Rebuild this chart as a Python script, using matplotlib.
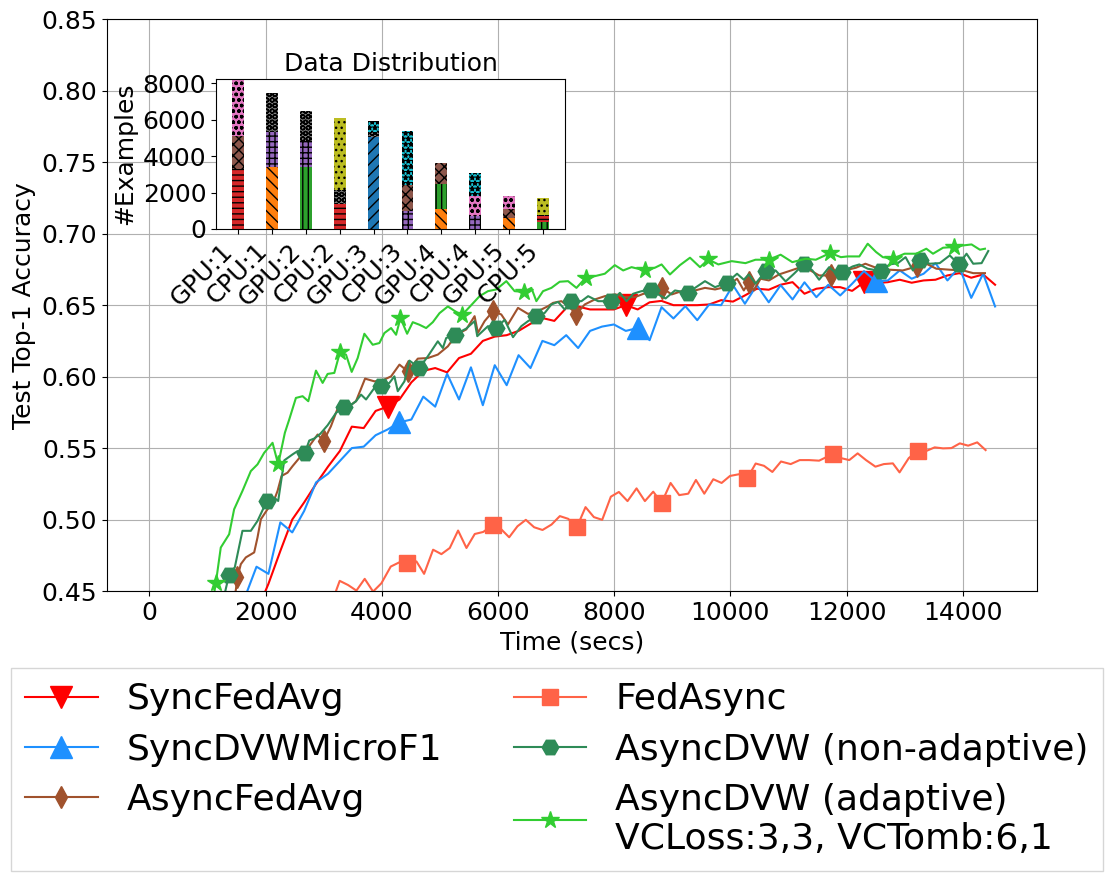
import numpy as np
import matplotlib
matplotlib.use("Agg")
import matplotlib.pyplot as plt

# ---- accuracy curves (time in secs, test top-1 accuracy) ----
red_t = [0, 1640, 1845, 2050, 2255, 2460, 2665, 2870, 3075, 3280, 3485, 3690, 3895, 4100, 4305,
         4510, 4715, 4920, 5125, 5330, 5535, 5740, 5945, 6150, 6355, 6560, 6765, 6970, 7175,
         7380, 7585, 7790, 7995, 8200, 8405, 8610, 8815, 9020, 9225, 9430, 9635, 9840, 10045,
         10250, 10455, 10660, 10865, 11070, 11275, 11480, 11685, 11890, 12095, 12300, 12505,
         12710, 12915, 13120, 13325, 13530, 13735, 13940, 14145, 14350, 14555]
red_acc = [0.10, 0.41, 0.435, 0.455, 0.478, 0.500, 0.512, 0.525, 0.537, 0.548, 0.565, 0.564,
           0.576, 0.579, 0.584, 0.596, 0.604, 0.606, 0.603, 0.613, 0.616, 0.625, 0.628, 0.629,
           0.632, 0.637, 0.641, 0.639, 0.648, 0.649, 0.647, 0.647, 0.647, 0.650, 0.647, 0.652,
           0.653, 0.650, 0.650, 0.650, 0.6505, 0.6535, 0.6525, 0.6568, 0.6615, 0.6608, 0.6643,
           0.6661, 0.658, 0.6615, 0.6626, 0.6626, 0.660, 0.6661, 0.6654, 0.6661, 0.6678, 0.6657,
           0.6673, 0.6678, 0.6708, 0.6724, 0.6692, 0.6715, 0.6643]
red_mark_t = [4100, 8200, 12300]

blue_t = [0, 1435, 1640, 1845, 2050, 2255, 2460, 2665, 2870, 3075, 3280, 3485, 3690, 3895, 4100,
          4305, 4510, 4715, 4920, 5125, 5330, 5535, 5740, 5945, 6150, 6355, 6560, 6765, 6970,
          7175, 7380, 7585, 7790, 7995, 8200, 8405, 8610, 8815, 9020, 9225, 9430, 9635, 9840,
          10045, 10250, 10455, 10660, 10865, 11070, 11275, 11480, 11685, 11890, 12095, 12300,
          12505, 12710, 12915, 13120, 13325, 13530, 13735, 13940, 14145, 14350, 14555]
blue_acc = [0.10, 0.42, 0.445, 0.467, 0.462, 0.498, 0.491, 0.506, 0.526, 0.532, 0.541, 0.550,
            0.551, 0.559, 0.563, 0.568, 0.570, 0.586, 0.579, 0.602, 0.584, 0.6065, 0.580, 0.608,
            0.594, 0.615, 0.606, 0.625, 0.622, 0.629, 0.620, 0.632, 0.635, 0.6365, 0.632, 0.634,
            0.6255, 0.6486, 0.6407, 0.6493, 0.6395, 0.6505, 0.650, 0.664, 0.651, 0.664, 0.652,
            0.664, 0.654, 0.666, 0.6556, 0.6643, 0.6568, 0.665, 0.6738, 0.6666, 0.6673, 0.6743,
            0.6685, 0.672, 0.6794, 0.6673, 0.6766, 0.6551, 0.672, 0.6491]
blue_mark_t = [4305, 8405, 12505]

brown_t = [0, 1380, 1489, 1517, 1575, 1661, 1805, 1862, 1920, 2034, 2121, 2207, 2276, 2379, 2466,
           2609, 2753, 2897, 3000, 3126, 3241, 3414, 3557, 3713, 3874, 4017, 4161, 4305, 4448,
           4621, 4793, 4965, 5138, 5282, 5454, 5598, 5655, 5770, 5914, 6057, 6172, 6345, 6517,
           6690, 6862, 6948, 7092, 7207, 7351, 7494, 7667, 7839, 8011, 8184, 8356, 8500, 8701,
           8828, 8989, 9161, 9391, 9563, 9736, 9908, 10023, 10115, 10231, 10317, 10403, 10519,
           10663, 10836, 11009, 11182, 11355, 11527, 11729, 11844, 12017, 12162, 12323, 12479,
           12738, 12968, 13210, 13372, 13545, 13775, 14006, 14179, 14381]
brown_acc = [0.10, 0.43, 0.4507, 0.4595, 0.4688, 0.4735, 0.477, 0.4874, 0.5002, 0.5072, 0.5107,
             0.520, 0.5305, 0.5328, 0.5374, 0.5444, 0.5514, 0.5595, 0.5549, 0.5653, 0.5777,
             0.5786, 0.5828, 0.5986, 0.5967, 0.5974, 0.6002, 0.6084, 0.6037, 0.6126, 0.613,
             0.6154, 0.6212, 0.6293, 0.633, 0.6423, 0.6306, 0.6388, 0.6458, 0.6435, 0.6365,
             0.6481, 0.6439, 0.6458, 0.6493, 0.6516, 0.6528, 0.6493, 0.6439, 0.6505, 0.654,
             0.6563, 0.6575, 0.6556, 0.6556, 0.6579, 0.6598, 0.6621, 0.6575, 0.6598, 0.6603,
             0.6621, 0.661, 0.6626, 0.6657, 0.6685, 0.6603, 0.6661, 0.6603, 0.6685, 0.6673,
             0.6715, 0.6738, 0.6762, 0.6748, 0.6708, 0.6708, 0.6743, 0.6748, 0.6762, 0.679,
             0.6766, 0.6748, 0.6743, 0.6771, 0.679, 0.6755, 0.6748, 0.6743, 0.6724, 0.6724]
brown_mark_t = [1517, 3000, 4448, 5914, 7351, 8828, 10317, 11729, 13210]

tomato_t = [0, 3070, 3219, 3277, 3420, 3564, 3707, 3851, 3994, 4155, 4310, 4442, 4597, 4729,
            4884, 5027, 5171, 5314, 5458, 5601, 5745, 5911, 6061, 6193, 6336, 6480, 6623, 6767,
            6922, 7065, 7209, 7358, 7507, 7651, 7794, 7943, 8081, 8230, 8385, 8529, 8672, 8816,
            8971, 9120, 9275, 9407, 9551, 9706, 9849, 9993, 10148, 10291, 10435, 10578, 10722,
            10871, 11038, 11193, 11355, 11527, 11758, 11902, 12046, 12190, 12334, 12496, 12640,
            12796, 12911, 13070, 13228, 13372, 13516, 13660, 13804, 13948, 14092, 14248, 14392]
tomato_acc = [0.10, 0.43, 0.4507, 0.4571, 0.4542, 0.4503, 0.4585, 0.4496, 0.4554, 0.4671,
              0.4702, 0.4695, 0.4707, 0.462, 0.4789, 0.4758, 0.4801, 0.4923, 0.4801, 0.4899,
              0.4913, 0.496, 0.493, 0.4876, 0.4953, 0.4998, 0.4946, 0.4927, 0.4965, 0.5024,
              0.5005, 0.4946, 0.5087, 0.5017, 0.4998, 0.516, 0.5193, 0.5129, 0.5218, 0.5129,
              0.5195, 0.5117, 0.5256, 0.5171, 0.5181, 0.5277, 0.5181, 0.5282, 0.5256, 0.5305,
              0.5317, 0.5289, 0.5392, 0.5376, 0.5333, 0.5406, 0.5388, 0.5416, 0.5416, 0.5412,
              0.5458, 0.543, 0.5416, 0.5463, 0.5416, 0.537, 0.5388, 0.5393, 0.533, 0.543,
              0.5482, 0.548, 0.5505, 0.5498, 0.550, 0.5533, 0.5517, 0.554, 0.5486]
tomato_mark_t = [4442, 5911, 7358, 8816, 10291, 11758, 13228]

sea_t = [0, 1200, 1316, 1374, 1471, 1603, 1747, 1862, 2023, 2149, 2218, 2322, 2466, 2552, 2678,
         2753, 2839, 2943, 3069, 3213, 3345, 3442, 3557, 3644, 3730, 3874, 3988, 4132, 4218,
         4276, 4391, 4477, 4649, 4793, 4965, 5052, 5109, 5253, 5454, 5598, 5644, 5828, 5971,
         6115, 6259, 6402, 6517, 6661, 6805, 6920, 7034, 7149, 7264, 7437, 7552, 7724, 7954,
         8098, 8213, 8328, 8471, 8632, 8759, 8885, 9046, 9276, 9391, 9563, 9736, 9937, 10115,
         10231, 10317, 10432, 10605, 10778, 10951, 11095, 11268, 11412, 11527, 11700, 11816,
         11919, 12104, 12219, 12363, 12594, 12738, 12882, 13015, 13141, 13257, 13430, 13602,
         13775, 13931, 14064, 14179, 14323, 14438]
sea_acc = [0.10, 0.43, 0.4514, 0.4614, 0.4665, 0.4921, 0.4921, 0.499, 0.513, 0.5153, 0.513,
           0.5414, 0.5456, 0.5479, 0.5467, 0.5553, 0.5567, 0.560, 0.566, 0.5746, 0.5786,
           0.5793, 0.5828, 0.5874, 0.584, 0.5921, 0.5933, 0.5956, 0.6002, 0.5898, 0.5967,
           0.6112, 0.606, 0.6142, 0.6247, 0.620, 0.627, 0.6293, 0.6336, 0.6388, 0.6283, 0.6353,
           0.6341, 0.6397, 0.6276, 0.6353, 0.6388, 0.6423, 0.6446, 0.6505, 0.6523, 0.647,
           0.6528, 0.6528, 0.6563, 0.6528, 0.6528, 0.6586, 0.6528, 0.658, 0.6598, 0.6603,
           0.6575, 0.6547, 0.6603, 0.6586, 0.6621, 0.6668, 0.6626, 0.6657, 0.672, 0.6678,
           0.6715, 0.665, 0.6738, 0.6743, 0.6666, 0.672, 0.679, 0.6743, 0.6678, 0.6766, 0.6724,
           0.6731, 0.6771, 0.6785, 0.6755, 0.6738, 0.6785, 0.6794, 0.6836, 0.6743, 0.6818,
           0.679, 0.6794, 0.6848, 0.6785, 0.686, 0.679, 0.6794, 0.6879]
sea_mark_t = [1374, 2023, 2678, 3345, 3988, 4649, 5253, 5971, 6661, 7264, 7954, 8632, 9276,
              9937, 10605, 11268, 11919, 12594, 13257, 13931]

lime_t = [0, 1040, 1144, 1230, 1374, 1460, 1603, 1747, 1862, 1977, 2121, 2218, 2333, 2408, 2523,
          2638, 2736, 2868, 2983, 3069, 3184, 3282, 3385, 3483, 3586, 3701, 3845, 3960, 4046,
          4161, 4247, 4322, 4437, 4534, 4649, 4764, 4879, 4994, 5138, 5253, 5379, 5540, 5684,
          5828, 5971, 6144, 6287, 6448, 6575, 6661, 6776, 6920, 7063, 7207, 7351, 7511, 7667,
          7839, 8011, 8155, 8299, 8529, 8701, 8816, 8960, 9132, 9305, 9477, 9621, 9793, 10023,
          10259, 10432, 10663, 10865, 11066, 11297, 11470, 11718, 11902, 12017, 12219, 12363,
          12507, 12623, 12796, 12997, 13199, 13372, 13487, 13660, 13850, 14006, 14150, 14294,
          14381]
lime_acc = [0.10, 0.43, 0.4553, 0.4804, 0.4897, 0.5072, 0.520, 0.5339, 0.5386, 0.5467, 0.5537,
            0.5386, 0.5607, 0.570, 0.5851, 0.5863, 0.5828, 0.6042, 0.5956, 0.6019, 0.6026,
            0.6172, 0.6154, 0.6033, 0.613, 0.630, 0.6223, 0.6235, 0.6305, 0.634, 0.6293, 0.641,
            0.630, 0.6381, 0.6363, 0.634, 0.6381, 0.6444, 0.6491, 0.646, 0.643, 0.650, 0.6563,
            0.6598, 0.661, 0.6668, 0.6598, 0.6593, 0.6621, 0.6528, 0.6598, 0.6621, 0.6664,
            0.6668, 0.6621, 0.6692, 0.6703, 0.672, 0.678, 0.6743, 0.6766, 0.6743, 0.6762,
            0.6785, 0.6715, 0.678, 0.6832, 0.6766, 0.682, 0.6785, 0.6808, 0.6794, 0.6818,
            0.6818, 0.6853, 0.6801, 0.6825, 0.6818, 0.6865, 0.6836, 0.6841, 0.6841, 0.693,
            0.6872, 0.6836, 0.6825, 0.686, 0.686, 0.6895, 0.686, 0.6902, 0.6907, 0.6918,
            0.6925, 0.6888, 0.6895]
lime_mark_t = [1144, 2218, 3282, 4322, 5379, 6448, 7511, 8529, 9621, 10663, 11718, 12796, 13850]

# ---- inset: examples per class on each worker ----
workers = ["GPU:1", "CPU:1", "GPU:2", "CPU:2", "GPU:3", "CPU:3", "GPU:4", "CPU:4", "GPU:5", "CPU:5"]
class_counts = [
    [0, 0, 0, 0, 5040, 0, 0, 0, 0, 0],
    [0, 3380, 0, 0, 0, 0, 1110, 0, 580, 0],
    [0, 0, 3380, 0, 0, 0, 1370, 0, 0, 370],
    [3290, 0, 0, 1390, 0, 0, 0, 0, 0, 320],
    [0, 1920, 1420, 0, 0, 970, 0, 730, 0, 0],
    [1820, 0, 0, 0, 0, 1460, 1150, 0, 530, 0],
    [3300, 0, 0, 0, 0, 0, 0, 1060, 710, 0],
    [0, 2170, 1680, 770, 260, 0, 0, 0, 0, 70],
    [0, 0, 0, 3940, 0, 0, 0, 0, 0, 950],
    [0, 0, 0, 0, 640, 2960, 0, 1280, 0, 0],
]
class_colors = ["tab:blue", "tab:orange", "tab:green", "tab:red", "tab:purple",
                "tab:brown", "tab:pink", "tab:gray", "tab:olive", "tab:cyan"]
class_hatch = ["/", "\\", "|", "-", "+", "x", "o", "O", ".", "*"]

fig = plt.figure(figsize=(11.14, 8.91), dpi=100)
ax = fig.add_axes([0.0961, 0.3367, 0.8348, 0.6416])


def marks(t, mt):
    return [t.index(v) for v in mt]


ax.plot(red_t, red_acc, color="red", lw=1.5, marker="v", ms=16,
        markevery=marks(red_t, red_mark_t), label="SyncFedAvg")
ax.plot(blue_t, blue_acc, color="dodgerblue", lw=1.5, marker="^", ms=16,
        markevery=marks(blue_t, blue_mark_t), label="SyncDVWMicroF1")
ax.plot(brown_t, brown_acc, color="sienna", lw=1.5, marker="d", ms=11,
        markevery=marks(brown_t, brown_mark_t), label="AsyncFedAvg")
ax.plot(tomato_t, tomato_acc, color="tomato", lw=1.5, marker="s", ms=12,
        markevery=marks(tomato_t, tomato_mark_t), label="FedAsync")
ax.plot(sea_t, sea_acc, color="seagreen", lw=1.5, marker="H", ms=12,
        markevery=marks(sea_t, sea_mark_t), label="AsyncDVW (non-adaptive)")
ax.plot(lime_t, lime_acc, color="limegreen", lw=1.5, marker="*", ms=13,
        markevery=marks(lime_t, lime_mark_t),
        label="AsyncDVW (adaptive)\nVCLoss:3,3, VCTomb:6,1")

ax.set_xlim(-727, 15277)
ax.set_ylim(0.45, 0.85)
ax.set_yticks(np.arange(0.45, 0.851, 0.05))
ax.grid(True)
ax.tick_params(labelsize=18)
ax.set_xlabel("Time (secs)", fontsize=18)
ax.set_ylabel("Test Top-1 Accuracy", fontsize=18)

fig.legend(loc="upper center", bbox_to_anchor=(0.5, 0.2503), ncol=2, fontsize=26,
           fancybox=False, borderaxespad=0, labelspacing=0.45)

# inset bar chart
ins = fig.add_axes([0.1939, 0.743, 0.3133, 0.1683])
x = np.arange(len(workers))
bottom = np.zeros(len(workers))
for c in range(len(class_counts)):
    vals = np.array(class_counts[c])
    ins.bar(x, vals, 0.35, bottom=bottom, color=class_colors[c],
            hatch=class_hatch[c] * 3, linewidth=0)
    bottom += vals
ins.set_ylim(0, 8220)
ins.set_yticks([0, 2000, 4000, 6000, 8000])
ins.set_xticks(x)
ins.set_xticklabels(workers, rotation=45, ha="right", fontsize=18)
ins.tick_params(axis="y", labelsize=18)
ins.set_ylabel("#Examples", fontsize=18)
ins.set_title("Data Distribution", fontsize=18)

fig.savefig("out.png", dpi=100)
